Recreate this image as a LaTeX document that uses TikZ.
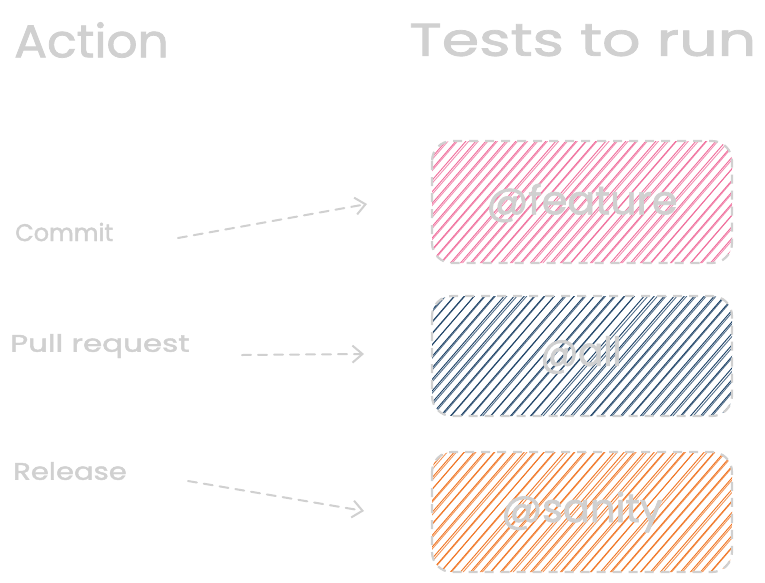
\documentclass[tikz,border=0pt]{standalone}
\usepackage{fontspec}
\setmainfont{Poppins}
\newfontfamily\handfont{Poppins}[FakeBold=1.6]
\usetikzlibrary{arrows.meta}
\definecolor{inkgray}{HTML}{D0D0D0}
\definecolor{hpink}{HTML}{F06C9B}
\definecolor{hblue}{HTML}{1C4166}
\definecolor{horange}{HTML}{F07422}
\tikzset{
  title/.style={text=inkgray, font=\handfont\fontsize{46}{50}\selectfont, inner sep=0pt, anchor=west},
  action/.style={text=inkgray, font=\handfont\fontsize{24}{28}\selectfont, inner sep=0pt, anchor=west},
  tag/.style={text=inkgray, font=\handfont\fontsize{40}{44}\selectfont, inner sep=0pt},
  frame/.style={draw=inkgray, line width=2.2pt, dash pattern=on 9pt off 7pt, rounded corners=20pt},
  flow/.style={draw=inkgray, line width=2pt, dash pattern=on 9pt off 7pt, line cap=round,
    -{Straight Barb[length=10pt,width=17pt,line width=2pt]}},
  hatch/.style={line width=0.9pt, line cap=round}
}
% hatched rounded box: #1 name, #2 left, #3 top, #4 right, #5 bottom, #6 colour
\newcommand{\hatchbox}[6]{%
  \begin{scope}
    \clip[rounded corners=20pt] (#2,#3) rectangle (#4,#5);
    \foreach \k in {0,...,46} {
      \pgfmathsetmacro{\xs}{#2-135+\k*10}
      \pgfmathsetmacro{\ja}{rand*1.2}
      \pgfmathsetmacro{\jb}{rand*1.5}
      \draw[hatch, draw=#6] (\xs,#5+4) -- ++(135,-156);
      \draw[hatch, draw=#6, opacity=0.75] (\xs+1.6+\ja,#5+4) -- ++(135+\jb,-156);
    }
  \end{scope}
  \draw[frame] (#2,#3) rectangle (#4,#5);
  \coordinate (#1) at ({(#2+#4)/2},{(#3+#5)/2});
}
\begin{document}
\begin{tikzpicture}[x=1pt,y=-1pt]
\pgfmathsetseed{7}
\useasboundingbox (0,0) rectangle (765,582);
\fill[white] (0,0) rectangle (765,582);

% column headings
\node[title] (hAction) at (14,40) {\scalebox{1.06}[1]{Action}};
\node[title] (hTests) at (409,40) {\scalebox{1.31}[1]{Tests to run}};

% test groups
\hatchbox{feature}{432}{141}{732}{263}{hpink}
\hatchbox{all}{432}{296}{732}{416}{hblue}
\hatchbox{sanity}{432}{452}{732}{572}{horange}

\node[tag] (tFeature) at (582,203) {\scalebox{1.03}[1]{@feature}};
\node[tag] (tAll) at (581,355) {\scalebox{0.93}[1]{@all}};
\node[tag] (tSanity) at (582,512) {@sanity};

% triggering actions
\node[action] (aCommit) at (15,232) {Commit};
\node[action] (aPull) at (10,346) {\scalebox{1.29}[1]{Pull request}};
\node[action] (aRelease) at (13,471) {\scalebox{1.21}[1]{Release}};

% arrows from each action towards its test group
\coordinate (cFrom) at (178,238);
\coordinate (cTo) at (367,204);
\coordinate (pFrom) at (242,355);
\coordinate (pTo) at (364,354);
\coordinate (rFrom) at (188,481);
\coordinate (rTo) at (364,511);
\draw[flow] (cFrom) -- (cTo);
\draw[flow] (pFrom) -- (pTo);
\draw[flow] (rFrom) -- (rTo);
\end{tikzpicture}
\end{document}
